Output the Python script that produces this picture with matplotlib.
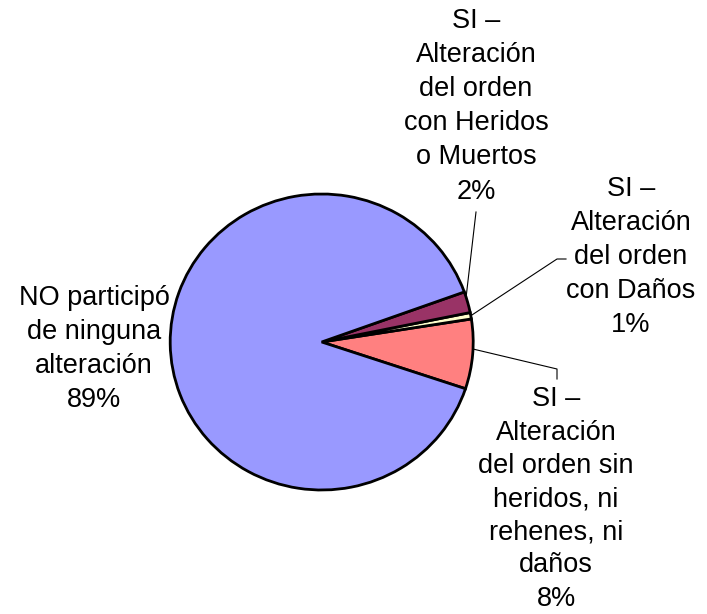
import numpy as np
import matplotlib
matplotlib.use("Agg")
import matplotlib.pyplot as plt

plt.rcParams["font.family"] = ["Liberation Sans", "DejaVu Sans"]

# slice order: counter-clockwise from the lower edge of the salmon slice
labels = ["SI \u2013\nAlteración\ndel orden sin\nheridos, ni\nrehenes, ni\ndaños",
          "SI \u2013\nAlteración\ndel orden\ncon Daños",
          "SI \u2013\nAlteración\ndel orden\ncon Heridos\no Muertos",
          "NO participó\nde ninguna\nalteración"]
values = [7.6, 0.7, 2.3, 89.4]
pct_labels = ["8%", "1%", "2%", "89%"]
colors = ["#FF8080", "#FFFFCC", "#993366", "#9999FF"]

W, H = 707, 614
cx, cy = 321.7, 342.0      # pie centre in pixels (from top-left)
sx, sy = 151.5, 148.0      # pixel radius along x / y
start = -18.4

fig = plt.figure(figsize=(W / 100, H / 100), dpi=100)
ax = fig.add_axes([0, 0, 1, 1])


def px(x, y):
    return (x - cx) / sx, (cy - y) / sy


wedges, _ = ax.pie(values, colors=colors, startangle=start, counterclock=True,
                   radius=1, wedgeprops=dict(edgecolor="black", linewidth=2.0))
ax.set_aspect("auto")
ax.set_xlim(-cx / sx, (W - cx) / sx)
ax.set_ylim(-(H - cy) / sy, cy / sy)
ax.axis("off")

# label centres and leader elbows (pixels)
text_pos = [(556, 499), (631, 257), (476, 106), (94, 349)]
leader = [[(557, 369), (557, 379)],
          [(557, 259), (566, 259)],
          [(476, 212)],
          None]
angle_shift = [2.0, 0.0, 2.0, 0.0]
spacing = [1.36, 1.41, 1.41, 1.41]

for i, w in enumerate(wedges):
    tx, ty = px(*text_pos[i])
    ax.text(tx, ty, labels[i] + "\n" + pct_labels[i], ha="center", va="center",
            multialignment="center", fontsize=19.5, linespacing=spacing[i])
    if leader[i] is None:
        continue
    a = np.deg2rad((w.theta1 + w.theta2) / 2 + angle_shift[i])
    pts = [(np.cos(a), np.sin(a))] + [px(*p) for p in leader[i]]
    xs, ys = zip(*pts)
    ax.plot(xs, ys, color="black", linewidth=0.8)

fig.savefig("out.png", dpi=100)
